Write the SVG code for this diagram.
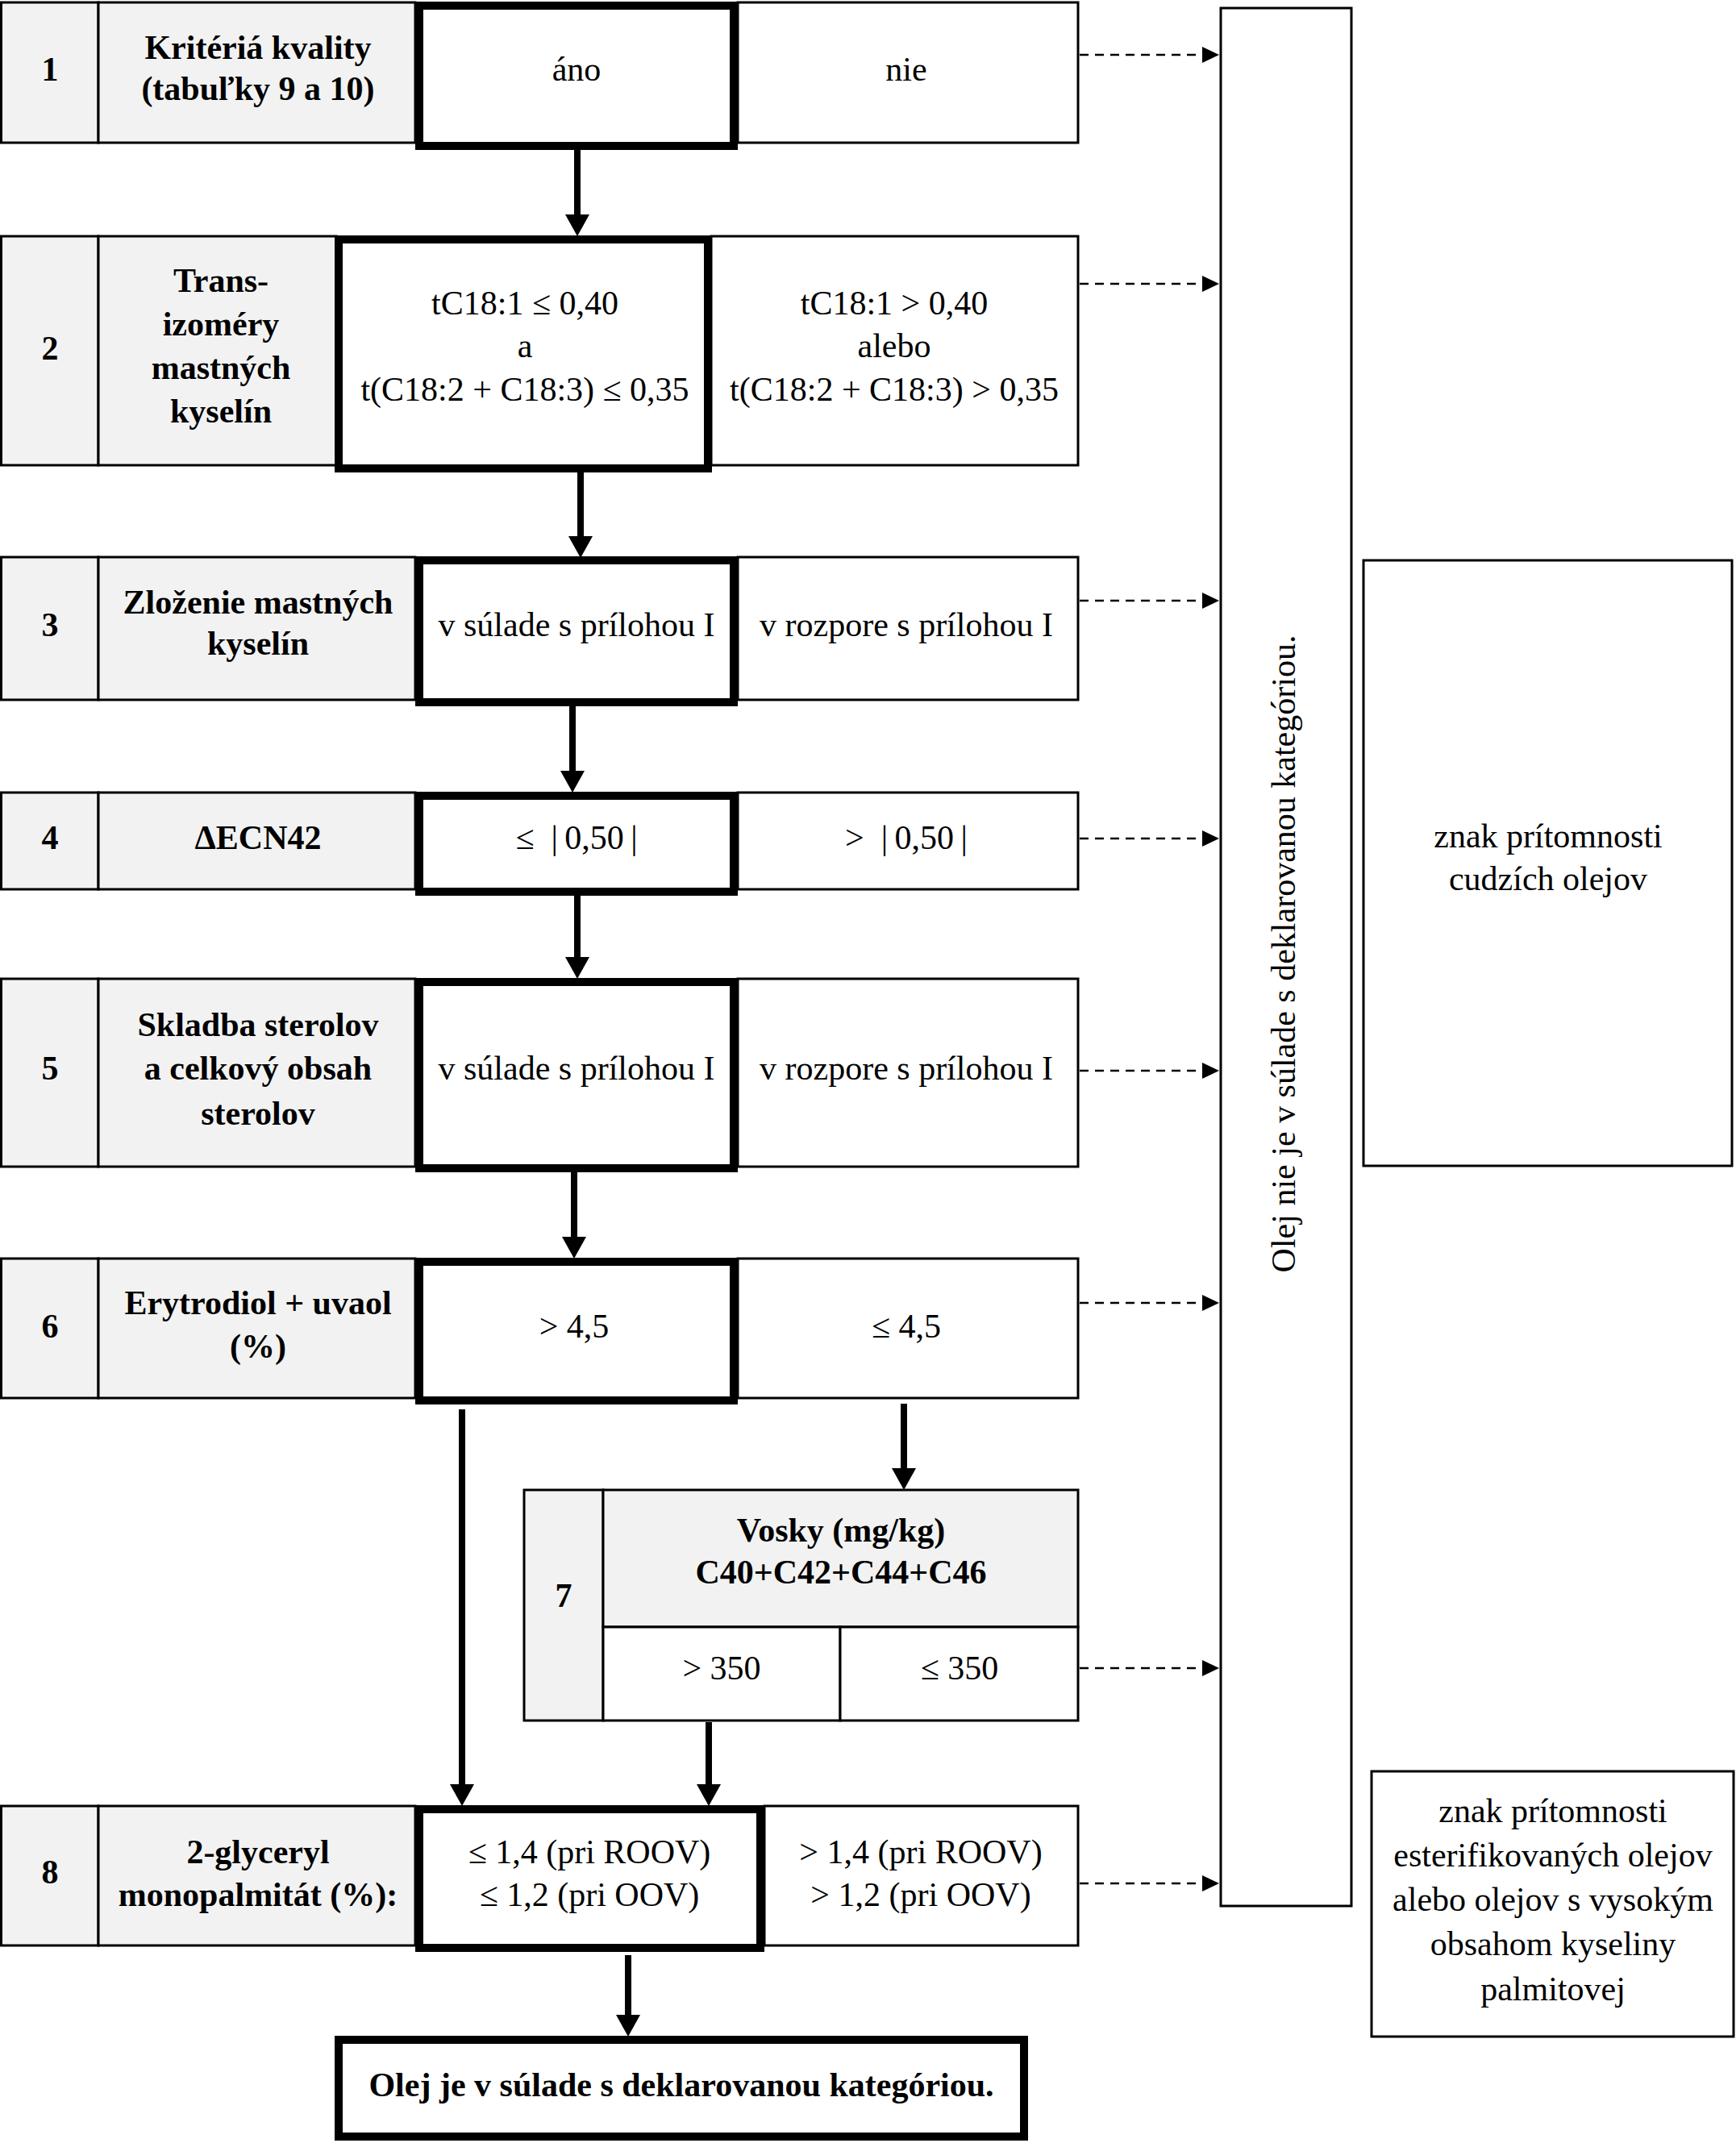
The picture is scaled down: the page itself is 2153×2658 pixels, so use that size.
<svg xmlns="http://www.w3.org/2000/svg" width="2153" height="2658" viewBox="0 0 2153 2658">
<style>
.bg{fill:#ffffff}
.g{fill:#f2f2f2;stroke:#000;stroke-width:3}
.w{fill:#ffffff;stroke:#000;stroke-width:3}
.k{fill:#ffffff;stroke:#000;stroke-width:10}
text{font-family:"Liberation Serif","Times New Roman",serif;font-size:42px;fill:#000;text-anchor:middle}
.b{font-weight:bold}
.sol{stroke:#000;stroke-width:8;fill:none}
.dash{stroke:#000;stroke-width:2.5;stroke-dasharray:11 8;fill:none}
</style>
<defs>
<marker id="ah" markerUnits="userSpaceOnUse" markerWidth="30" markerHeight="30" refX="4" refY="15" orient="auto" viewBox="0 0 30 30">
<path d="M0,0 L27,15 L0,30 z" fill="#000"/>
</marker>
<marker id="dh" markerUnits="userSpaceOnUse" markerWidth="24" markerHeight="22" refX="2" refY="10" orient="auto" viewBox="0 0 24 22">
<path d="M0,0 L21,10 L0,20 z" fill="#000"/>
</marker>
</defs>
<rect class="bg" x="0" y="0" width="2153" height="2658"/>

<g id="row1">
<rect class="g" x="1.5" y="3" width="120.5" height="174"/>
<rect class="g" x="122" y="3" width="393" height="174"/>
<rect class="w" x="915" y="3" width="422" height="174"/>
<rect class="k" x="520" y="7" width="390" height="174"/>
<text class="b" x="62" y="100">1</text>
<text class="b" x="320" y="73">Kritériá kvality</text>
<text class="b" x="320" y="124">(tabuľky 9 a 10)</text>
<text x="715" y="100">áno</text>
<text x="1124" y="100">nie</text>
</g>

<g id="row2">
<rect class="g" x="1.5" y="293" width="120.5" height="284"/>
<rect class="g" x="122" y="293" width="295" height="284"/>
<rect class="w" x="882" y="293" width="455" height="284"/>
<rect class="k" x="420" y="297" width="458" height="284"/>
<text class="b" x="62" y="446">2</text>
<text class="b" x="274" y="362">Trans-</text>
<text class="b" x="274" y="416">izoméry</text>
<text class="b" x="274" y="470">mastných</text>
<text class="b" x="274" y="524">kyselín</text>
<text x="651" y="390">tC18:1 ≤ 0,40</text>
<text x="651" y="443">a</text>
<text x="651" y="497">t(C18:2 + C18:3) ≤ 0,35</text>
<text x="1109" y="390">tC18:1 &gt; 0,40</text>
<text x="1109" y="443">alebo</text>
<text x="1109" y="497">t(C18:2 + C18:3) &gt; 0,35</text>
</g>

<g id="row3">
<rect class="g" x="1.5" y="691" width="120.5" height="177"/>
<rect class="g" x="122" y="691" width="393" height="177"/>
<rect class="w" x="915" y="691" width="422" height="177"/>
<rect class="k" x="520" y="695" width="390" height="176"/>
<text class="b" x="62" y="789">3</text>
<text class="b" x="320" y="761">Zloženie mastných</text>
<text class="b" x="320" y="812">kyselín</text>
<text x="715" y="789">v súlade s prílohou I</text>
<text x="1124" y="789">v rozpore s prílohou I</text>
</g>

<g id="row4">
<rect class="g" x="1.5" y="983" width="120.5" height="120"/>
<rect class="g" x="122" y="983" width="393" height="120"/>
<rect class="w" x="915" y="983" width="422" height="120"/>
<rect class="k" x="520" y="987" width="390" height="119"/>
<text class="b" x="62" y="1053">4</text>
<text class="b" x="320" y="1053">ΔECN42</text>
<text x="715" y="1053">≤&#160; |&#8201;0,50&#8201;|</text>
<text x="1124" y="1053">&gt;&#160; |&#8201;0,50&#8201;|</text>
</g>

<g id="row5">
<rect class="g" x="1.5" y="1214" width="120.5" height="233"/>
<rect class="g" x="122" y="1214" width="393" height="233"/>
<rect class="w" x="915" y="1214" width="422" height="233"/>
<rect class="k" x="520" y="1218" width="390" height="231"/>
<text class="b" x="62" y="1339">5</text>
<text class="b" x="320" y="1285">Skladba sterolov</text>
<text class="b" x="320" y="1339">a celkový obsah</text>
<text class="b" x="320" y="1395">sterolov</text>
<text x="715" y="1339">v súlade s prílohou I</text>
<text x="1124" y="1339">v rozpore s prílohou I</text>
</g>

<g id="row6">
<rect class="g" x="1.5" y="1561" width="120.5" height="173"/>
<rect class="g" x="122" y="1561" width="393" height="173"/>
<rect class="w" x="915" y="1561" width="422" height="173"/>
<rect class="k" x="520" y="1565" width="390" height="172"/>
<text class="b" x="62" y="1659">6</text>
<text class="b" x="320" y="1630">Erytrodiol + uvaol</text>
<text class="b" x="320" y="1684">(%)</text>
<text x="712" y="1659">&gt; 4,5</text>
<text x="1124" y="1659">≤ 4,5</text>
</g>

<g id="row7">
<rect class="g" x="650" y="1848" width="98" height="286"/>
<rect class="g" x="748" y="1848" width="589" height="170"/>
<rect class="w" x="748" y="2018" width="294" height="116"/>
<rect class="w" x="1042" y="2018" width="295" height="116"/>
<text class="b" x="699" y="1993">7</text>
<text class="b" x="1043" y="1912">Vosky (mg/kg)</text>
<text class="b" x="1043" y="1964">C40+C42+C44+C46</text>
<text x="895" y="2083">&gt; 350</text>
<text x="1190" y="2083">≤ 350</text>
</g>

<g id="row8">
<rect class="g" x="1.5" y="2240" width="120.5" height="173"/>
<rect class="g" x="122" y="2240" width="393" height="173"/>
<rect class="w" x="948" y="2240" width="389" height="173"/>
<rect class="k" x="520" y="2244" width="423" height="172"/>
<text class="b" x="62" y="2336">8</text>
<text class="b" x="320" y="2311">2-glyceryl</text>
<text class="b" x="320" y="2364">monopalmitát (%):</text>
<text x="731" y="2311">≤ 1,4 (pri ROOV)</text>
<text x="731" y="2364">≤ 1,2 (pri OOV)</text>
<text x="1142" y="2311">&gt; 1,4 (pri ROOV)</text>
<text x="1142" y="2364">&gt; 1,2 (pri OOV)</text>
</g>

<g id="final">
<rect class="k" x="420" y="2530" width="850" height="120"/>
<text class="b" x="845" y="2600">Olej je v súlade s deklarovanou kategóriou.</text>
</g>

<g id="reject">
<rect class="w" x="1514" y="10" width="162" height="2354"/>
<text transform="translate(1606,1183) rotate(-90)" x="0" y="0">Olej nie je v súlade s deklarovanou kategóriou.</text>
</g>

<g id="foreign">
<rect class="w" x="1691" y="695" width="457" height="751"/>
<text x="1920" y="1051">znak prítomnosti</text>
<text x="1920" y="1104">cudzích olejov</text>
</g>

<g id="esterified">
<rect class="w" x="1701" y="2197" width="449" height="329"/>
<text x="1926" y="2260">znak prítomnosti</text>
<text x="1926" y="2315">esterifikovaných olejov</text>
<text x="1926" y="2370">alebo olejov s vysokým</text>
<text x="1926" y="2425">obsahom kyseliny</text>
<text x="1926" y="2481">palmitovej</text>
</g>

<g id="connectors">
<line class="sol" x1="716" y1="186" x2="716" y2="270" marker-end="url(#ah)"/>
<line class="sol" x1="720" y1="586" x2="720" y2="669" marker-end="url(#ah)"/>
<line class="sol" x1="710" y1="876" x2="710" y2="960" marker-end="url(#ah)"/>
<line class="sol" x1="716" y1="1111" x2="716" y2="1191" marker-end="url(#ah)"/>
<line class="sol" x1="712" y1="1454" x2="712" y2="1538" marker-end="url(#ah)"/>
<line class="sol" x1="573" y1="1748" x2="573" y2="2217" marker-end="url(#ah)"/>
<line class="sol" x1="1121" y1="1741" x2="1121" y2="1825" marker-end="url(#ah)"/>
<line class="sol" x1="879" y1="2136" x2="879" y2="2217" marker-end="url(#ah)"/>
<line class="sol" x1="779" y1="2425" x2="779" y2="2503" marker-end="url(#ah)"/>
<line class="dash" x1="1339" y1="68" x2="1493" y2="68" marker-end="url(#dh)"/>
<line class="dash" x1="1339" y1="352" x2="1493" y2="352" marker-end="url(#dh)"/>
<line class="dash" x1="1339" y1="745" x2="1493" y2="745" marker-end="url(#dh)"/>
<line class="dash" x1="1339" y1="1040" x2="1493" y2="1040" marker-end="url(#dh)"/>
<line class="dash" x1="1339" y1="1328" x2="1493" y2="1328" marker-end="url(#dh)"/>
<line class="dash" x1="1339" y1="1616" x2="1493" y2="1616" marker-end="url(#dh)"/>
<line class="dash" x1="1339" y1="2069" x2="1493" y2="2069" marker-end="url(#dh)"/>
<line class="dash" x1="1339" y1="2336" x2="1493" y2="2336" marker-end="url(#dh)"/>
</g>
</svg>
